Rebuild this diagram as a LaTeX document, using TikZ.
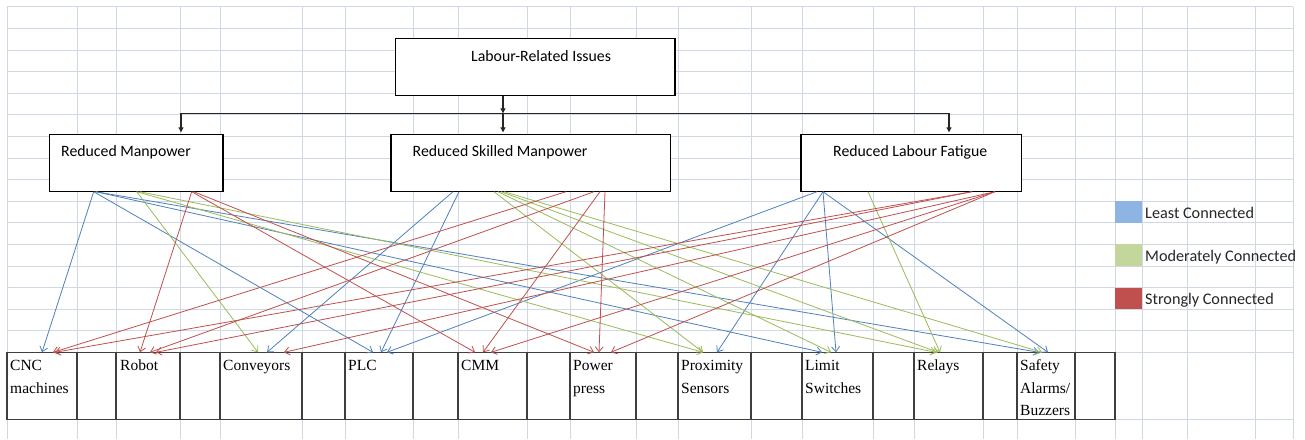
\documentclass[tikz,border=0pt]{standalone}
\usepackage{fontspec}
\setmainfont{Liberation Serif}
\newfontfamily\calibri{Carlito}
\usetikzlibrary{arrows.meta,calc}
\definecolor{gridc}{HTML}{D0D7E5}
\definecolor{cblue}{HTML}{4F81BD}
\definecolor{cgreen}{HTML}{9BBB59}
\definecolor{cred}{HTML}{C0504D}
\definecolor{sqblue}{HTML}{8DB4E2}
\definecolor{sqgreen}{HTML}{C3D69B}
\definecolor{sqred}{HTML}{C0504D}
\definecolor{tabc}{HTML}{3F3F3F}
\definecolor{txtc}{HTML}{262626}
\tikzset{
  gline/.style={draw=gridc, line width=0.8pt},
  topbox/.style={draw=black, fill=white, line width=1.1pt, inner sep=0pt, outer sep=0pt, anchor=north west, minimum height=57.4pt},
  cellbox/.style={draw=tabc, fill=white, line width=1.3pt, inner sep=0pt, outer sep=0pt, anchor=north west, minimum height=67pt},
  btxt/.style={anchor=base west, inner sep=0pt, text=black, font=\calibri\fontsize{15.8}{18}\selectfont},
  ltxt/.style={anchor=base west, inner sep=0pt, text=txtc, font=\calibri\fontsize{16.2}{18}\selectfont},
  ttxt/.style={anchor=base west, inner sep=0pt, text=black, font=\fontsize{15.5}{18}\selectfont},
  feed/.style={draw=black!85, line width=1.1pt, -{Triangle[length=5pt,width=5pt]}},
  hline/.style={draw=black!85, line width=1.1pt},
  lnk/.style={line width=0.8pt, -{Straight Barb[length=5pt,width=8pt]}},
  sq/.style={anchor=north west, inner sep=0pt, outer sep=0pt, minimum width=27pt, minimum height=21.6pt}
}
\begin{document}
\begin{tikzpicture}[x=1pt,y=-1pt]
\clip (0,0) rectangle (1305,439);
\fill[white] (0,0) rectangle (1305,439);
% spreadsheet grid
\foreach \gx in {7,77,116,180,220,302,345,413,458,527,570,636,678,751,802,873,914,983,1017,1075,1115,1142,1187,1255,1293}
  \draw[gline] (\gx,6.7) -- (\gx,439);
\foreach \k in {0,...,16}
  \draw[gline] (7,{6.7+21.6*\k}) -- (1293,{6.7+21.6*\k});
\draw[gline] (7,419.3) -- (1293,419.3);

% table cells
\foreach \a/\b/\n in {7/77/cnc,77/116/e1,116/180/rob,180/220/e2,220/302/con,302/345/e3,345/413/plc,413/458/e4,458/527/cmm,527/570/e5,570/636/pow,636/678/e6,678/751/prx,751/802/e7,802/873/lim,873/914/e8,914/983/rel,983/1017/e9,1017/1075/saf,1075/1115/e10}
  \node[cellbox, minimum width={\b-\a}] (\n) at (\a,352.3) {};

% table texts
\node[ttxt] (t1a) at (10,370) {CNC};
\node[ttxt] (t1b) at (10,393) {machines};
\node[ttxt] (t2) at (120,370) {Robot};
\node[ttxt] (t3) at (223,370) {Conveyors};
\node[ttxt] (t4) at (348,370) {PLC};
\node[ttxt] (t5) at (461,370) {CMM};
\node[ttxt] (t6a) at (573,370) {Power};
\node[ttxt] (t6b) at (573,393) {press};
\node[ttxt] (t7a) at (681,370) {Proximity};
\node[ttxt] (t7b) at (681,393) {Sensors};
\node[ttxt] (t8a) at (805,370) {Limit};
\node[ttxt] (t8b) at (805,393) {Switches};
\node[ttxt] (t9) at (917,370) {Relays};
\node[ttxt] (t10a) at (1020,370) {Safety};
\node[ttxt] (t10b) at (1020,393) {Alarms/};
\node[ttxt] (t10c) at (1020,415.5) {Buzzers};

% top boxes
\node[topbox, minimum width=279.4pt] (lab) at (395.6,38.3) {};
\node[topbox, minimum width=173.3pt] (rm) at (49.7,134.3) {};
\node[topbox, minimum width=279.5pt] (rsm) at (391,134.3) {};
\node[topbox, minimum width=220.7pt] (rlf) at (801,134.3) {};
\node[btxt] (labT) at (471,61) {Labour-Related Issues};
\node[btxt] (rmT) at (61,156) {Reduced Manpower};
\node[btxt] (rsmT) at (412.5,156) {Reduced Skilled Manpower};
\node[btxt] (rlfT) at (833,156) {Reduced Labour Fatigue};

% feed connectors
\coordinate (jc) at (503,113.3);
\coordinate (jl) at (181,113.3);
\coordinate (jr) at (949,113.3);
\draw[hline] (jl) -- (jr);
\draw[feed] (jc |- lab.south) -- (jc);
\draw[feed, shorten >=2pt] (jl) -- (jl |- rm.north);
\draw[feed, shorten >=2pt] (jc) -- (jc |- rsm.north);
\draw[feed, shorten >=2pt] (jr) -- (jr |- rlf.north);

% links
\foreach \s/\sx/\t/\tx in {rm/44/cnc/35, rm/44/plc/28, rm/46/lim/20, rm/46/saf/22, rsm/62/con/47, rsm/68/plc/36, rlf/16/plc/42, rlf/22/prx/39, rlf/22/lim/34, rlf/22/saf/31}
  \draw[lnk, draw=cblue] ($(\s.south west)+(\sx,0)$) -- ($(\t.north west)+(\tx,0)$);
\foreach \s/\sx/\t/\tx in {rm/87/con/38, rm/87/prx/25, rm/90/rel/22, rsm/103/prx/25, rsm/107/lim/29, rsm/110/rel/24, rsm/113/saf/25, rlf/67/rel/26}
  \draw[lnk, draw=cgreen] ($(\s.south west)+(\sx,0)$) -- ($(\t.north west)+(\tx,0)$);
\foreach \s/\sx/\t/\tx in {rm/142/rob/24, rm/142/cmm/17, rm/144/pow/24, rsm/175/cnc/46, rsm/203/rob/34, rsm/209/cmm/25, rsm/214/pow/29, rlf/171/cnc/48, rlf/171/rob/40, rlf/194/con/64, rlf/194/cmm/33, rlf/194/pow/41}
  \draw[lnk, draw=cred] ($(\s.south west)+(\sx,0)$) -- ($(\t.north west)+(\tx,0)$);

% legend
\node[sq, fill=sqblue] (sqB) at (1115,201.1) {};
\node[sq, fill=sqgreen] (sqG) at (1115,244.3) {};
\node[sq, fill=sqred] (sqR) at (1115,287.5) {};
\node[ltxt] (lB) at (1145,218.5) {Least Connected};
\node[ltxt] (lG) at (1145,261.5) {Moderately Connected};
\node[ltxt] (lR) at (1145,304) {Strongly Connected};
\end{tikzpicture}
\end{document}
